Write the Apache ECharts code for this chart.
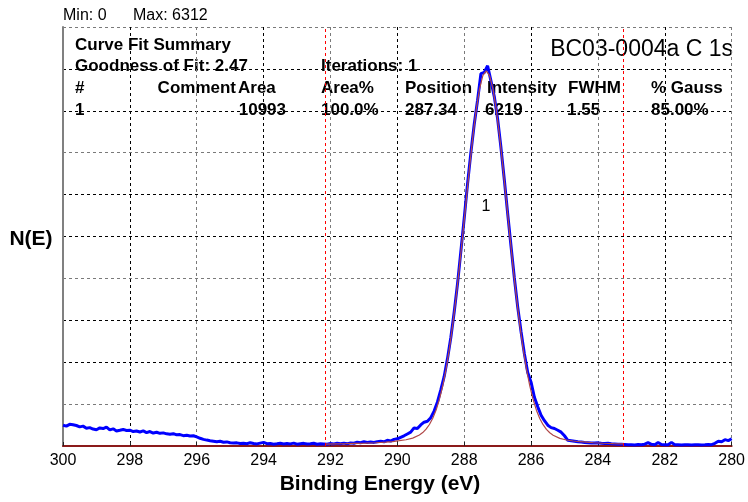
<!DOCTYPE html>
<html>
<head>
<meta charset="utf-8">
<script src="https://cdn.jsdelivr.net/npm/echarts@6/dist/echarts.min.js"></script>
<style>
  html, body { margin: 0; padding: 0; background: #fff; }
  #chart { width: 748px; height: 502px; }
</style>
</head>
<body>
<div id="chart"></div>
<script>
// C 1s spectrum, sampled every 0.1 eV from 300.0 eV down to 280.0 eV
const energyStart = 300.0;
const energyStep = 0.1;
const spectrumCounts = [
  345, 330, 360, 352, 340, 318, 330, 296, 305, 282,
  270, 300, 290, 315, 268, 285, 250, 262, 275, 258,
  262, 240, 248, 232, 250, 222, 240, 215, 228, 210,
  218, 202, 195, 205, 185, 190, 172, 178, 165, 170,
  150, 128, 110, 98, 88, 80, 70, 78, 62, 68,
  55, 48, 52, 40, 45, 38, 55, 42, 35, 48,
  60, 38, 42, 30, 36, 45, 32, 40, 35, 48,
  30, 38, 44, 32, 36, 45, 30, 38, 34, 28,
  40, 35, 44, 38, 48, 36, 52, 45, 62, 55,
  70, 58, 66, 60, 72, 78, 70, 95, 82, 110,
  120, 145, 170, 200, 230, 300, 290, 350, 395, 410,
  470, 580, 730, 930, 1150, 1450, 1800, 2220, 2690, 3230,
  3780, 4350, 4870, 5340, 5740, 6180, 6200, 6312, 6060, 5800,
  5430, 4950, 4420, 3860, 3320, 2790, 2310, 1900, 1530, 1220,
  1060, 810, 650, 510, 420, 345, 305, 290, 262, 230,
  170, 95, 88, 80, 72, 66, 60, 55, 50, 48,
  52, 44, 40, 45, 36, 34, 30, 28, 25, 22,
  20, 18, 24, 20, 30, 55, 28, 22, 58, 25,
  20, 22, 60, 22, 20, 18, 22, 20, 18, 20,
  22, 18, 20, 24, 22, 45, 80, 70, 105, 90,
  120
];

// Peak 1 envelope (fit) with its background
const fitEnergy = [
  292.15, 291.84, 291.54, 291.24, 290.94, 290.64, 290.34, 290.14, 289.94, 289.74,
  289.54, 289.34, 289.24, 289.14, 289.04, 288.94, 288.84, 288.74, 288.64, 288.54,
  288.44, 288.34, 288.24, 288.14, 288.04, 287.94, 287.84, 287.74, 287.64, 287.54,
  287.44, 287.34, 287.24, 287.14, 287.04, 286.94, 286.84, 286.74, 286.64, 286.54,
  286.44, 286.34, 286.24, 286.14, 286.04, 285.94, 285.84, 285.74, 285.64, 285.54,
  285.44, 285.34, 285.14, 284.94, 284.74, 284.54, 284.34, 284.14, 283.84, 283.54,
  283.25
];
const fitCounts = [
  32, 35, 38, 42, 47, 54, 64, 74, 88, 104,
  130, 182, 223, 280, 357, 461, 598, 777, 1004, 1286,
  1626, 2025, 2481, 2985, 3525, 4081, 4628, 5139, 5583, 5931,
  6151, 6227, 6148, 5927, 5580, 5136, 4625, 4078, 3522, 2982,
  2478, 2022, 1623, 1283, 1001, 774, 595, 458, 354, 277,
  220, 179, 127, 100, 83, 71, 63, 54, 46, 40,
  36
];

// Fit region limits (eV)
const regionBounds = [292.15, 283.25];

// Axis ticks
const xMin = 280, xMax = 300, xStep = 2;
const yMax = 6955, yStep = 695.5;

const spectrum = spectrumCounts.map((c, i) => [
  +(energyStart - energyStep * i).toFixed(1), c
]);
const envelope = fitEnergy.map((e, i) => [e, fitCounts[i]]);

const FONT = '"Liberation Sans", Arial, sans-serif';
const BLACK = '#000000', GREY = '#7a7a7a';

function label(text, x, y, size, bold, align) {
  return {
    type: 'text', x: x, y: y, silent: true,
    style: {
      text: text, fill: '#000',
      font: (bold ? 'bold ' : '') + size + 'px ' + FONT,
      textAlign: align || 'left', textVerticalAlign: 'middle'
    }
  };
}

const chart = echarts.init(document.getElementById('chart'), null, { renderer: 'canvas' });
chart.setOption({
  animation: false,
  backgroundColor: '#ffffff',
  grid: { left: 63, right: 15, top: 27, bottom: 56, containLabel: false },
  xAxis: {
    type: 'value', min: xMin, max: xMax, interval: xStep, inverse: true,
    axisLine: { show: true, onZero: false, lineStyle: { color: '#8b1a1a', width: 2 } },
    axisTick: { show: true, inside: true, length: 4, lineStyle: { color: '#222', width: 1 } },
    axisLabel: { color: '#000', fontSize: 16, fontFamily: FONT, margin: 7 },
    splitLine: { show: true, lineStyle: { color: [GREY, BLACK], type: [3, 3], width: 1 } }
  },
  yAxis: {
    type: 'value', min: 0, max: yMax, interval: yStep,
    axisLine: { show: true, lineStyle: { color: '#808080', width: 2 } },
    axisTick: { show: false },
    axisLabel: { show: false },
    splitLine: { show: true, lineStyle: { color: [BLACK, GREY, BLACK], type: [3, 3], width: 1 } }
  },
  series: [
    {
      name: 'N(E)', type: 'line', data: spectrum, showSymbol: false, z: 3,
      lineStyle: { color: '#0000ff', width: 3 },
      markLine: {
        silent: true, symbol: ['none', 'none'], label: { show: false },
        lineStyle: { color: '#ff0000', type: [3, 3], width: 1 },
        data: regionBounds.map(v => ({ xAxis: v }))
      }
    },
    {
      name: 'Envelope', type: 'line', data: envelope, showSymbol: false, z: 4,
      lineStyle: { color: '#b04848', width: 1.2 }
    }
  ],
  graphic: [
    label('Min: 0', 63, 16, 16, false),
    label('Max: 6312', 133, 16, 16, false),
    label('Curve Fit Summary', 75, 45, 17, true),
    label('BC03-0004a C 1s', 733, 50, 23, false, 'right'),
    label('Goodness of Fit: 2.47', 75, 66, 17, true),
    label('Iterations: 1', 321, 66, 17, true),
    label('#', 75, 88, 17, true),
    label('Comment', 236, 88, 17, true, 'right'),
    label('Area', 238, 88, 17, true),
    label('Area%', 321, 88, 17, true),
    label('Position', 405, 88, 17, true),
    label('Intensity', 487, 88, 17, true),
    label('FWHM', 568, 88, 17, true),
    label('% Gauss', 651, 88, 17, true),
    label('1', 75, 110, 17, true),
    label('10993', 286, 110, 17, true, 'right'),
    label('100.0%', 321, 110, 17, true),
    label('287.34', 405, 110, 17, true),
    label('6219', 485, 110, 17, true),
    label('1.55', 567, 110, 17, true),
    label('85.00%', 651, 110, 17, true),
    label('1', 486, 207, 16, false, 'center'),
    label('N(E)', 31, 239, 21, true, 'center'),
    label('Binding Energy (eV)', 380, 484, 21, true, 'center')
  ]
});
</script>
</body>
</html>
